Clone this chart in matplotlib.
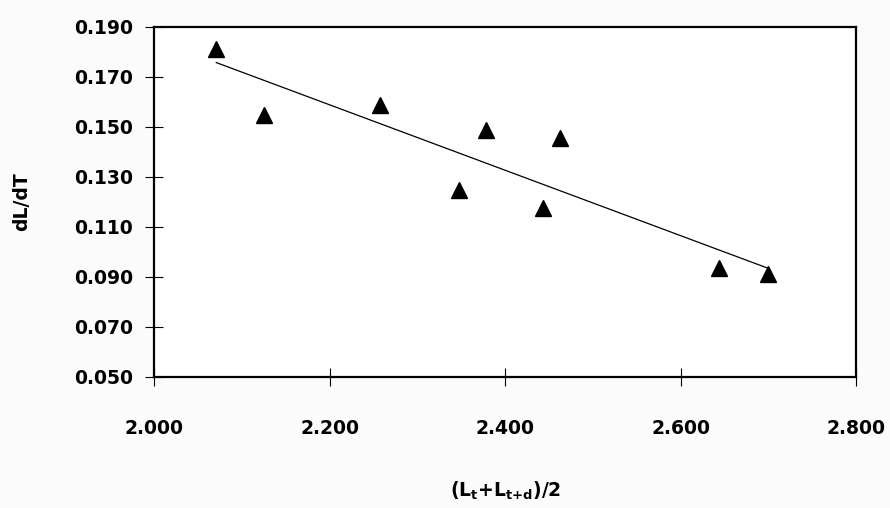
import numpy as np
import matplotlib
matplotlib.use('Agg')
import matplotlib.pyplot as plt

plt.rcParams['font.family'] = 'DejaVu Sans'
plt.rcParams['font.weight'] = 'bold'
plt.rcParams['mathtext.default'] = 'regular'

# data
x_avg = [2.071, 2.125, 2.258, 2.378, 2.463, 2.348, 2.443, 2.644, 2.700]
dl_dt = [0.1812, 0.1548, 0.1588, 0.1487, 0.1457, 0.1247, 0.1175, 0.0937, 0.0913]
xticks = [2.0, 2.2, 2.4, 2.6, 2.8]
yticks = [0.05, 0.07, 0.09, 0.11, 0.13, 0.15, 0.17, 0.19]

fig = plt.figure(figsize=(8.9, 5.08), dpi=100)
fig.patch.set_facecolor('#fbfbfb')
ax = fig.add_axes([0.173, 0.258, 0.789, 0.689])
ax.set_facecolor('white')

x = np.array(x_avg)
y = np.array(dl_dt)
ax.plot(x, y, '^', color='black', markersize=11, zorder=3)

# linear trend line across data range
m, c = np.polyfit(x, y, 1)
xl = np.array([x.min(), x.max()])
ax.plot(xl, m*xl + c, '-', color='black', linewidth=0.9)

ax.set_xlim(2.0, 2.8)
ax.set_ylim(0.05, 0.19)
ax.set_xticks(xticks)
ax.set_yticks(yticks)
ax.set_xticklabels(['%.3f' % v for v in xticks])
ax.set_yticklabels(['%.3f' % v for v in yticks])

for s in ax.spines.values():
    s.set_linewidth(1.6)
ax.tick_params(axis='y', direction='inout', length=13, width=0.8, pad=8.5, labelsize=13.5)
ax.tick_params(axis='x', direction='inout', length=13, width=0.8, pad=24, labelsize=13.5)

ax.set_ylabel('dL/dT', fontsize=13.5, fontweight='bold', labelpad=31)
ax.set_xlabel(r'(L$_{t}$+L$_{t{+}d}$)/2', fontsize=13.5, fontweight='bold', labelpad=30)

plt.savefig('out.png', dpi=100)
